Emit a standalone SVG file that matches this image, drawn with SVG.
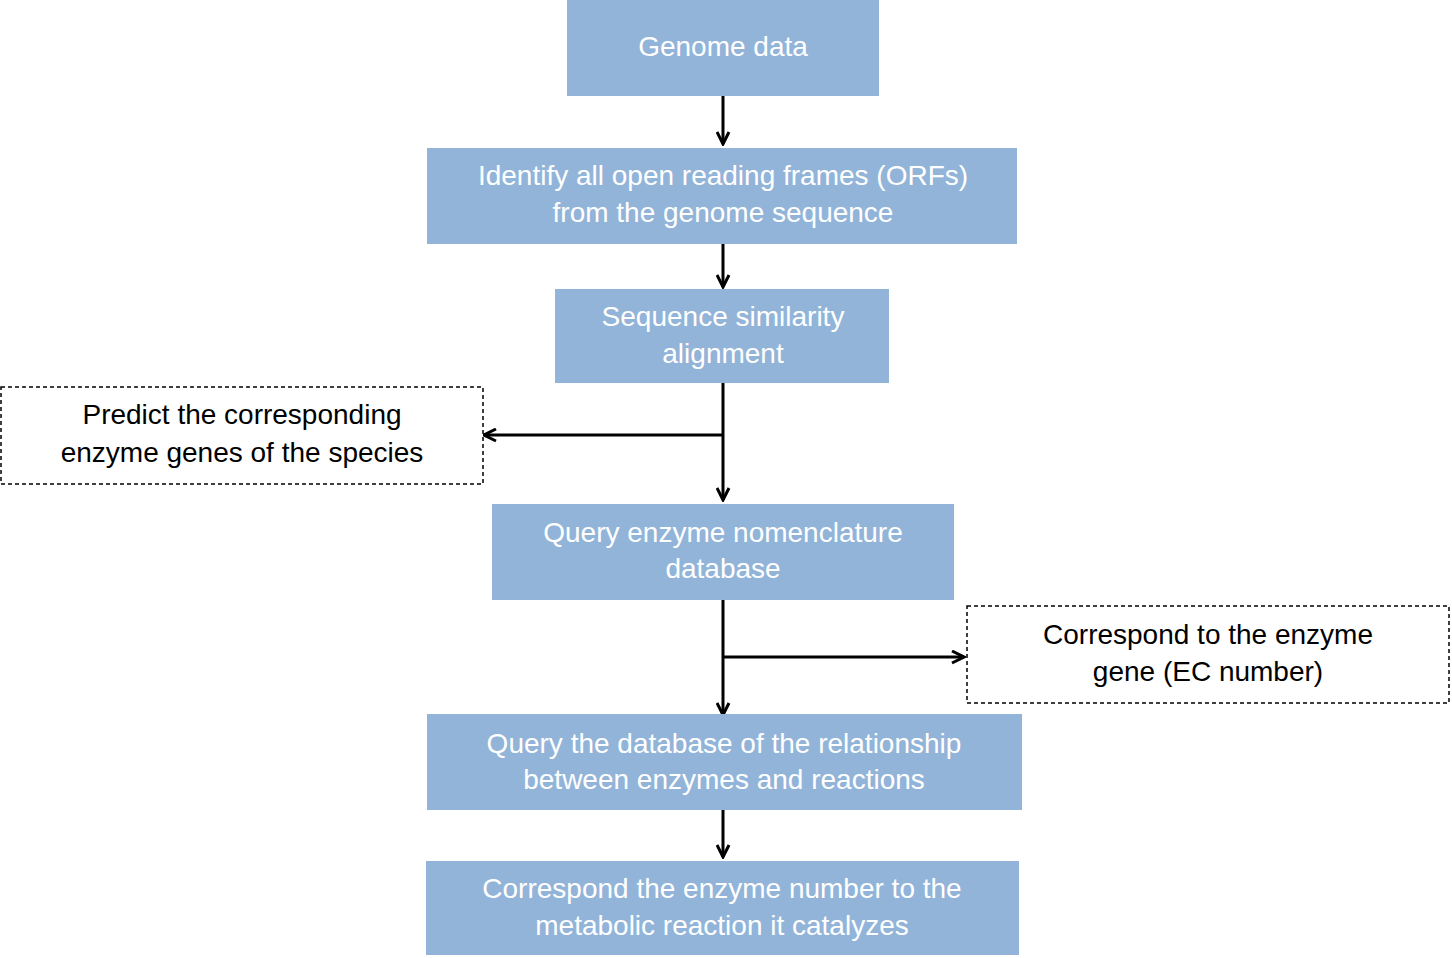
<svg xmlns="http://www.w3.org/2000/svg" width="1452" height="958" viewBox="0 0 1452 958">
<style>
.b{fill:#92b4d9}
.d{fill:#fff;stroke:#000;stroke-width:1.5;stroke-dasharray:4,3}
.t{font-family:"Liberation Sans",Arial,sans-serif;font-size:28px;text-anchor:middle;fill:#fff}
.k{fill:#000}
.c{stroke:#000;stroke-width:3;fill:none;marker-end:url(#a)}
</style>
<defs><marker id="a" viewBox="0 0 10 10" refX="9" refY="5" markerWidth="5" markerHeight="5" orient="auto"><path d="M1,1 L9,5 L1,9" fill="none" stroke="#000" stroke-width="2"/></marker></defs>
<rect width="1452" height="958" fill="#fff"/>
<g id="connectors">
<path class="c" d="M723,96 V144"/>
<path class="c" d="M723,244 V287"/>
<path class="c" d="M723,383 V500"/>
<path class="c" d="M723,435 H484"/>
<path class="c" d="M723,600 V715"/>
<path class="c" d="M723,657 H964"/>
<path class="c" d="M723,810 V857"/>
</g>
<g id="n1"><rect class="b" x="567" y="0" width="312" height="96"/><text class="t" x="723" y="56">Genome data</text></g>
<g id="n2"><rect class="b" x="427" y="148" width="590" height="96"/><text class="t" x="723" y="185">Identify all open reading frames (ORFs)</text><text class="t" x="723" y="222">from the genome sequence</text></g>
<g id="n3"><rect class="b" x="555" y="289" width="334" height="94"/><text class="t" x="723" y="326">Sequence similarity</text><text class="t" x="723" y="363">alignment</text></g>
<g id="n4"><rect class="d" x="1" y="387" width="482" height="97"/><text class="t k" x="242" y="424">Predict the corresponding</text><text class="t k" x="242" y="462">enzyme genes of the species</text></g>
<g id="n5"><rect class="b" x="492" y="504" width="462" height="96"/><text class="t" x="723" y="542">Query enzyme nomenclature</text><text class="t" x="723" y="578">database</text></g>
<g id="n6"><rect class="d" x="967" y="606" width="482" height="97"/><text class="t k" x="1208" y="644">Correspond to the enzyme</text><text class="t k" x="1208" y="681">gene (EC number)</text></g>
<g id="n7"><rect class="b" x="427" y="714" width="595" height="96"/><text class="t" x="724" y="753">Query the database of the relationship</text><text class="t" x="724" y="789">between enzymes and reactions</text></g>
<g id="n8"><rect class="b" x="426" y="861" width="593" height="94"/><text class="t" x="722" y="898">Correspond the enzyme number to the</text><text class="t" x="722" y="935">metabolic reaction it catalyzes</text></g>
</svg>
